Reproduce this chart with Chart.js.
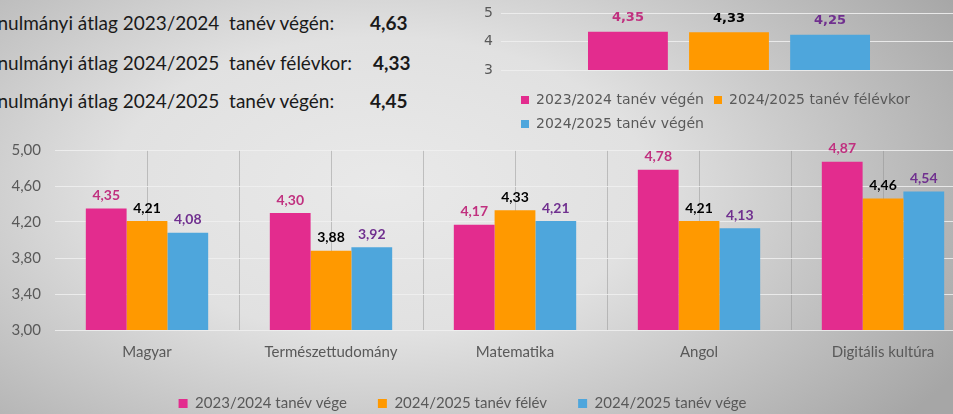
<!DOCTYPE html>
<html>
<head>
<meta charset="utf-8">
<script src="https://cdn.jsdelivr.net/npm/chart.js@4"></script>
<style>
html,body{margin:0;padding:0;width:953px;height:414px;overflow:hidden;}
body{position:relative;background:radial-gradient(ellipse 70% 90% at 40% 45%,#e9e9e9 0%,#e1e1e1 40%,#a6a6a6 100%);font-family:Lato,sans-serif;}
.row{position:absolute;left:-21px;font-size:19px;color:#1a1a1a;white-space:pre;}
.val{position:absolute;font-size:19px;font-weight:bold;color:#1a1a1a;}
#small{position:absolute;left:470px;top:-3px;width:490px;height:150px;}
#main{position:absolute;left:0;top:127px;width:980px;height:294px;}
</style>
</head>
<body>
<div class="row" style="top:11px">Tanulmányi átlag 2023/2024  tanév végén:</div>
<div class="val" style="left:370px;top:11px">4,63</div>
<div class="row" style="top:51px">Tanulmányi átlag 2024/2025  tanév félévkor:</div>
<div class="val" style="left:373px;top:51px">4,33</div>
<div class="row" style="top:89px">Tanulmányi átlag 2024/2025  tanév végén:</div>
<div class="val" style="left:370px;top:89px">4,45</div>

<div id="small"><canvas id="c1"></canvas></div>
<div id="main"><canvas id="c2"></canvas></div>

<script>
// overall averages (small chart)
const avgLabels=["2023/2024 tanév végén","2024/2025 tanév félévkor","2024/2025 tanév végén"];
const avgValues=[4.35,4.33,4.25];
const avgTicks=[3,4,5];

// subjects (main chart)
const subjects=["Magyar","Természettudomány","Matematika","Angol","Digitális kultúra"];
const seriesNames=["2023/2024 tanév vége","2024/2025 tanév félév","2024/2025 tanév vége"];
const end2324=[4.35,4.30,4.17,4.78,4.87];
const half2425=[4.21,3.88,4.33,4.21,4.46];
const end2425=[4.08,3.92,4.21,4.13,4.54];
const mainTicks=[3.00,3.40,3.80,4.20,4.60,5.00];

const barColors=["#e32c8e","#ff9900","#4ea6dc"];
const labelColors=["#c0307f","#000000","#70308f"];

const fmt=v=>v.toFixed(2).replace(".",",");

// value labels above bars
const valueLabels={
id:"valueLabels",
afterDatasetsDraw(chart,args,opts){
const ctx=chart.ctx;
ctx.save();
ctx.font=opts.font;
ctx.textAlign="center";
ctx.textBaseline="middle";
chart.data.datasets.forEach((ds,i)=>{
const meta=chart.getDatasetMeta(i);
meta.data.forEach((bar,j)=>{
ctx.fillStyle=labelColors[i];
ctx.fillText(fmt(ds.data[j]),bar.x,bar.y-opts.offset);
});
});
ctx.restore();
}
};

// move legend sideways
const legendShift={
id:"legendShift",
afterLayout(chart,args,opts){
if(chart.legend){chart.legend.left+=opts.dx;chart.legend.right+=opts.dx;}
}
};

// small chart
new Chart(document.getElementById("c1"),{
type:"bar",
data:{
labels:[""],
datasets:avgLabels.map((l,i)=>({label:l,data:[avgValues[i]],backgroundColor:barColors[i],categoryPercentage:0.665,barPercentage:0.79}))
},
options:{
responsive:true,maintainAspectRatio:false,animation:false,
layout:{padding:{top:0,right:3,bottom:6,left:0}},
scales:{
x:{grid:{display:false,drawTicks:false},border:{display:false},ticks:{display:false},afterFit:s=>{s.height=13;}},
y:{min:3,max:5,afterBuildTicks:s=>{s.ticks=avgTicks.map(v=>({value:v}));},
grid:{color:"rgba(238,238,238,0.9)",drawTicks:false},border:{display:false},
ticks:{color:"#595959",font:{family:"DejaVu Sans",size:14},padding:8},
afterFit:s=>{s.width=31;}}
},
plugins:{
legend:{position:"bottom",align:"start",fullSize:false,
labels:{boxWidth:8,boxHeight:8,padding:10,color:"#595959",font:{family:"DejaVu Sans",size:14}}},
tooltip:{enabled:false},
valueLabels:{font:"bold 13px 'DejaVu Sans'",offset:14},
legendShift:{dx:10}
}
},
plugins:[valueLabels,legendShift]
});

// main chart
new Chart(document.getElementById("c2"),{
type:"bar",
data:{
labels:subjects,
datasets:[end2324,half2425,end2425].map((d,i)=>({label:seriesNames[i],data:d,backgroundColor:barColors[i],categoryPercentage:0.665,barPercentage:1}))
},
options:{
responsive:true,maintainAspectRatio:false,animation:false,
layout:{padding:{top:0,right:5,bottom:0,left:0}},
scales:{
x:{offset:true,grid:{offset:true,drawTicks:false,color:c=>c.index===0?"transparent":"rgba(140,140,140,0.45)"},border:{display:false},
ticks:{color:"#595959",font:{family:"Lato",size:15},padding:13},afterFit:s=>{s.height=35;}},
x2:{type:"category",labels:subjects,position:"top",offset:true,grid:{offset:false,drawTicks:false,color:"rgba(140,140,140,0.45)"},border:{display:false},
ticks:{display:false},afterFit:s=>{s.height=0;}},
y:{min:3,max:5,afterBuildTicks:s=>{s.ticks=mainTicks.map(v=>({value:v}));},
grid:{color:"rgba(240,240,240,0.85)",drawTicks:false},border:{display:false},
ticks:{color:"#595959",font:{family:"Lato",size:15},padding:14,callback:v=>fmt(v)},
afterFit:s=>{s.width=55;}}
},
plugins:{
legend:{position:"bottom",
labels:{boxWidth:9,boxHeight:9,padding:31,color:"#595959",font:{family:"Lato",size:15}}},
tooltip:{enabled:false},
valueLabels:{font:"bold 14px Lato",offset:13},
legendShift:{dx:-25}
}
},
plugins:[valueLabels,legendShift]
});
</script>
</body>
</html>
